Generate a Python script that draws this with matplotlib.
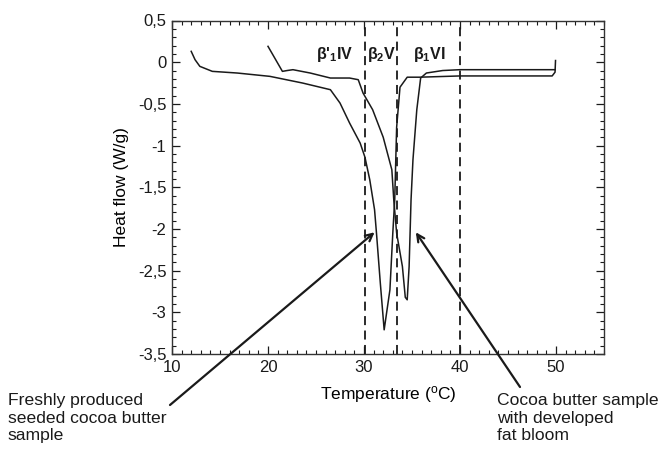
import matplotlib
matplotlib.use("Agg")
import matplotlib.pyplot as plt
from matplotlib.ticker import MultipleLocator, FuncFormatter

plt.rcParams['font.family'] = ['Liberation Sans', 'DejaVu Sans']
plt.rcParams['mathtext.fontset'] = 'custom'
plt.rcParams['mathtext.rm'] = 'Liberation Sans:bold'
plt.rcParams['mathtext.sf'] = 'Liberation Sans'
plt.rcParams['mathtext.default'] = 'rm'

# Freshly produced seeded cocoa butter sample
fresh_T = [12.0, 12.4, 12.9, 14.2, 16.8, 20.2, 23.6, 26.5, 27.5, 28.5, 29.6, 30.1, 30.6,
           31.1, 31.3, 31.7, 32.1, 32.7, 33.0, 33.2, 33.4, 33.75, 34.5, 35.8, 40.0, 45.0,
           49.6, 49.9, 49.95]
fresh_HF = [0.13, 0.03, -0.05, -0.11, -0.13, -0.17, -0.25, -0.33, -0.49, -0.73, -0.97, -1.14,
            -1.41, -1.77, -2.05, -2.65, -3.21, -2.73, -2.05, -1.65, -0.78, -0.30, -0.18, -0.18,
            -0.165, -0.165, -0.165, -0.12, 0.02]

# Cocoa butter sample with developed fat bloom
bloom_T = [20.0, 20.8, 21.5, 22.0, 22.6, 24.4, 26.5, 28.5, 29.4, 29.9, 30.9, 32.0, 32.9,
           33.1, 33.4, 34.0, 34.3, 34.5, 34.7, 34.9, 35.1, 35.5, 35.9, 36.5, 38.2, 40.0,
           45.0, 49.9]
bloom_HF = [0.19, 0.03, -0.11, -0.10, -0.09, -0.13, -0.19, -0.19, -0.21, -0.37, -0.57, -0.90,
            -1.29, -1.65, -2.05, -2.45, -2.82, -2.85, -2.45, -1.65, -1.17, -0.57, -0.19, -0.13,
            -0.10, -0.09, -0.09, -0.09]

phase_bounds = [30.1, 33.4, 40.0]
phase_labels = ["β'$_1$IV", "β$_2$V", "β$_1$VI"]
phase_label_x = [27.0, 31.8, 36.8]

fig = plt.figure(figsize=(6.62, 4.51), dpi=100)
ax = fig.add_axes([172/662, 1-354/451, (604-172)/662, (354-20.5)/451])

col = '#1a1a1a'
ax.plot(fresh_T, fresh_HF, color=col, lw=1.1)
ax.plot(bloom_T, bloom_HF, color=col, lw=1.1)

for xb in phase_bounds:
    ax.axvline(xb, color=col, lw=1.3, ls=(0, (5, 3)))

for lab, xl in zip(phase_labels, phase_label_x):
    ax.text(xl, 0.09, lab, ha='center', va='center', fontsize=11.5, fontweight='bold', color=col)

ax.set_xlim(10, 55)
ax.set_ylim(-3.5, 0.5)
ax.xaxis.set_major_locator(MultipleLocator(10))
ax.xaxis.set_minor_locator(MultipleLocator(1))
ax.yaxis.set_major_locator(MultipleLocator(0.5))
ax.yaxis.set_minor_locator(MultipleLocator(0.1))

def yfmt(v, pos):
    if abs(v) < 1e-9:
        return '0'
    return ('%g' % v).replace('.', ',')
ax.yaxis.set_major_formatter(FuncFormatter(yfmt))
ax.xaxis.set_major_formatter(FuncFormatter(lambda v, p: '%d' % v if v < 55 else ''))

ax.tick_params(which='both', direction='in', top=True, right=True, labelsize=12, colors=col)
ax.tick_params(which='major', length=6, width=0.9, pad=4)
ax.tick_params(which='minor', length=3, width=0.8)
for s in ax.spines.values():
    s.set_linewidth(1.0)
    s.set_color('#333333')

ax.set_xlabel('Temperature ($^{\\mathsf{o}}$C)', fontsize=12.5, labelpad=7)
ax.set_ylabel('Heat flow (W/g)', fontsize=12.5, labelpad=6)

# annotations
ax.annotate('', xy=(31.1, -2.04), xytext=(170, 451-405), textcoords='figure pixels',
            xycoords='data', annotation_clip=False,
            arrowprops=dict(arrowstyle='->', lw=1.6, color=col, shrinkA=0, shrinkB=0,
                            mutation_scale=13))
ax.annotate('', xy=(35.4, -2.04), xytext=(520, 451-387), textcoords='figure pixels',
            xycoords='data', annotation_clip=False,
            arrowprops=dict(arrowstyle='->', lw=1.6, color=col, shrinkA=0, shrinkB=0,
                            mutation_scale=13))

fig.text(8/662, 1-393/451, 'Freshly produced\nseeded cocoa butter\nsample', ha='left', va='top',
         fontsize=12.6, color=col, linespacing=1.22)
fig.text(497/662, 1-393/451, 'Cocoa butter sample\nwith developed\nfat bloom', ha='left', va='top',
         fontsize=12.6, color=col, linespacing=1.22)

fig.savefig('out.png', dpi=100, facecolor='white')
